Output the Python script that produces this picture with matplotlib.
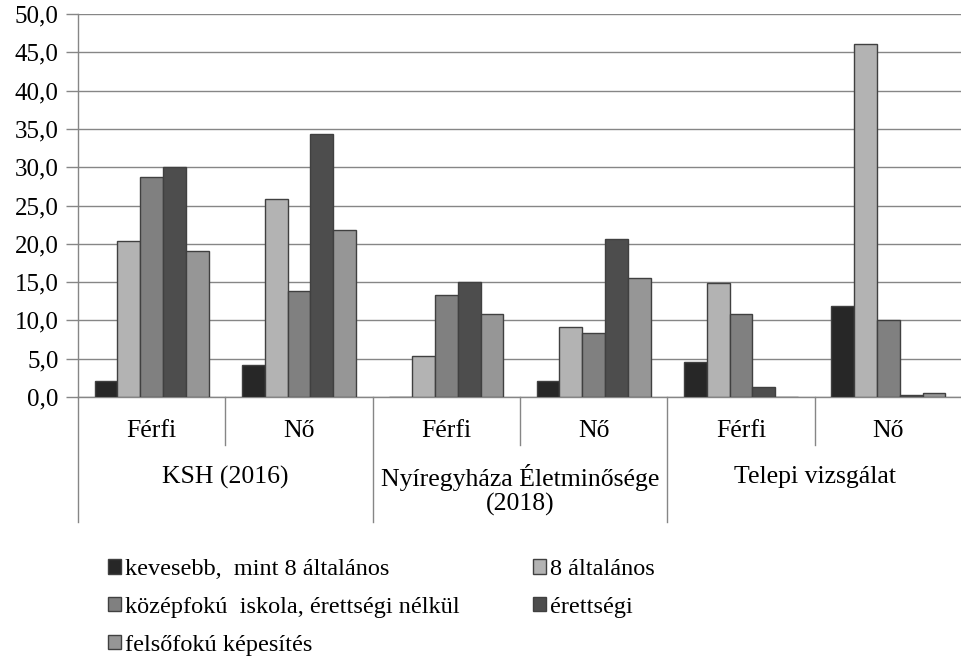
import numpy as np
import matplotlib.pyplot as plt
from matplotlib.ticker import FuncFormatter
from matplotlib.transforms import blended_transform_factory
from matplotlib.lines import Line2D

plt.rcParams['font.family'] = ['Liberation Serif', 'DejaVu Serif']

sub_labels = ['Férfi', 'Nő', 'Férfi', 'Nő', 'Férfi', 'Nő']
group_labels = ['KSH (2016)', 'Nyíregyháza Életminősége\n(2018)', 'Telepi vizsgálat']
series_names = ['kevesebb,  mint 8 általános', '8 általános',
                'középfokú  iskola, érettségi nélkül', 'érettségi',
                'felsőfokú képesítés']
kevesebb = [2.1, 4.2, 0.0, 2.1, 4.6, 11.9]
altalanos8 = [20.4, 25.9, 5.3, 9.2, 14.9, 46.1]
kozepfoku = [28.7, 13.9, 13.3, 8.3, 10.9, 10.0]
erettsegi = [30.0, 34.3, 15.0, 20.6, 1.3, 0.2]
felsofoku = [19.0, 21.8, 10.8, 15.6, 0.0, 0.5]
colors = ['#272727', '#b3b3b3', '#808080', '#4d4d4d', '#969696']

series = [kevesebb, altalanos8, kozepfoku, erettsegi, felsofoku]

fig = plt.figure(figsize=(9.62, 6.67), dpi=100)
ax = fig.add_axes([78/962, 1-397/667, 1-78/962, 383/667])

x = np.arange(len(sub_labels))
w = 0.155
handles = []
for i, (vals, c) in enumerate(zip(series, colors)):
    b = ax.bar(x + (i-2)*w, vals, width=w, color=c, edgecolor='#404040',
               linewidth=1.0, zorder=3, label=series_names[i])
    handles.append(b)

ax.set_xlim(-0.5, 5.5)
ax.set_ylim(0, 50)
ax.set_yticks(np.arange(0, 50.1, 5))
ax.yaxis.set_major_formatter(FuncFormatter(lambda v, p: f"{v:.1f}".replace('.', ',')))
ax.tick_params(axis='y', length=9, width=1, color='#868686', labelsize=18, pad=5)
ax.set_xticks([])
ax.grid(axis='y', color='#868686', linewidth=1.0, zorder=0)
for s in ['top', 'right']:
    ax.spines[s].set_visible(False)
for s in ['left', 'bottom']:
    ax.spines[s].set_color('#868686')
    ax.spines[s].set_linewidth(1.0)

trans = blended_transform_factory(ax.transData, ax.transAxes)
for k in range(6):
    xb = k - 0.5
    bottom = -0.326 if k % 2 == 0 else -0.125
    ax.add_line(Line2D([xb, xb], [0, bottom], transform=trans, color='#868686',
                       linewidth=1.0, clip_on=False))

for i, lab in enumerate(sub_labels):
    ax.text(i, -0.090, lab, transform=trans, ha='center', va='center', fontsize=18.5)
for g, lab in enumerate(group_labels):
    if '\n' in lab:
        ax.text(2*g + 0.5, -0.243, lab, transform=trans, ha='center', va='center',
                fontsize=18.5, linespacing=1.15)
    else:
        ax.text(2*g + 0.5, -0.209, lab, transform=trans, ha='center', va='center',
                fontsize=18.5)

order = [0, 2, 4, 1, 3]
fig.legend([handles[i] for i in order], [series_names[i] for i in order],
           ncol=2, loc='upper left', bbox_to_anchor=(108/962, 1-559/667),
           frameon=False, fontsize=17.5, handlelength=0.55, handleheight=0.55,
           handletextpad=0.15, columnspacing=3.0, labelspacing=0.69,
           borderpad=0, borderaxespad=0)

fig.savefig('out.png', dpi=100)
